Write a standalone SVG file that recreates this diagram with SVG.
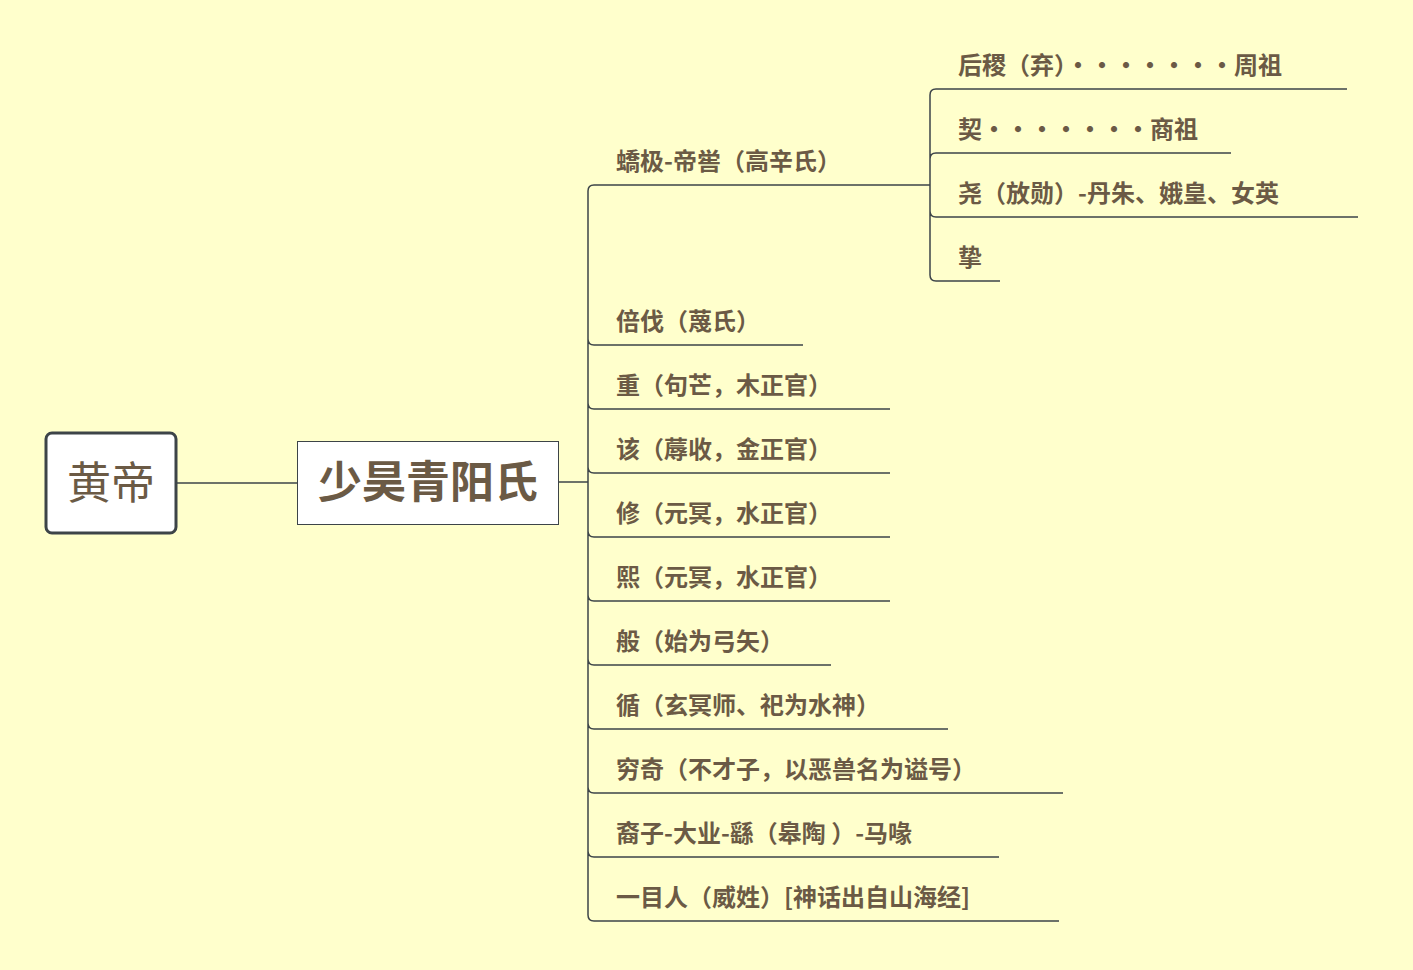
<svg xmlns="http://www.w3.org/2000/svg" width="1413" height="970" viewBox="0 0 1413 970">
<style>
text{font-family:"Noto Sans CJK SC","Noto Sans",sans-serif;fill:#6b5a45}
.t{font-size:24px;font-weight:bold}
.c{fill:none;stroke:#3d4448;stroke-width:1.5}
</style>
<rect width="1413" height="970" fill="#ffffcc"/>
<g id="connectors">
<path d="M176 483H297" class="c" stroke-width="3"/>
<path d="M558 482H588" class="c" stroke-width="2"/>
<path class="c" d="M588 482V191Q588 185 594 185H900 M588 482V339Q588 345 594 345H803 M588 482V403Q588 409 594 409H890 M588 482V467Q588 473 594 473H890 M588 482V531Q588 537 594 537H890 M588 482V595Q588 601 594 601H890 M588 482V659Q588 665 594 665H831 M588 482V723Q588 729 594 729H948 M588 482V787Q588 793 594 793H1063 M588 482V851Q588 857 594 857H999 M588 482V915Q588 921 594 921H1059"/>
<path class="c" d="M900 185H930 M930 185V95Q930 89 936 89H1347 M930 185V159Q930 153 936 153H1231 M930 185V211Q930 217 936 217H1358 M930 185V275Q930 281 936 281H1000"/>
</g>
<g id="huangdi"><rect x="46" y="433" width="130" height="100" rx="6" fill="#fff" stroke="#3d4448" stroke-width="3"/><text x="111" y="499" font-size="44" text-anchor="middle">黄帝</text></g>
<g id="shaohao"><rect x="297.5" y="441.5" width="261" height="83" fill="#fff" stroke="#3d4448"/><text x="428" y="498" font-size="44" font-weight="bold" text-anchor="middle">少昊青阳氏</text></g>
<g id="n1"><text class="t" x="616" y="170">蟜极-帝喾（高辛氏）</text></g>
<g id="n2"><text class="t" x="616" y="330">倍伐（蔑氏）</text></g>
<g id="n3"><text class="t" x="616" y="394">重（句芒，木正官）</text></g>
<g id="n4"><text class="t" x="616" y="458">该（蓐收，金正官）</text></g>
<g id="n5"><text class="t" x="616" y="522">修（元冥，水正官）</text></g>
<g id="n6"><text class="t" x="616" y="586">熙（元冥，水正官）</text></g>
<g id="n7"><text class="t" x="616" y="650">般（始为弓矢）</text></g>
<g id="n8"><text class="t" x="616" y="714">循（玄冥师、祀为水神）</text></g>
<g id="n9"><text class="t" x="616" y="778">穷奇（不才子，以恶兽名为谥号）</text></g>
<g id="n10"><text class="t" x="616" y="842">裔子-大业-繇（皋陶 ）-马喙</text></g>
<g id="n11"><text class="t" x="616" y="906">一目人（威姓）[神话出自山海经]</text></g>
<g id="g1"><text class="t" x="958" y="74">后稷（弃）·······周祖</text></g>
<g id="g2"><text class="t" x="958" y="138">契·······商祖</text></g>
<g id="g3"><text class="t" x="958" y="202">尧（放勋）-丹朱、娥皇、女英</text></g>
<g id="g4"><text class="t" x="958" y="266">挚</text></g>
</svg>
